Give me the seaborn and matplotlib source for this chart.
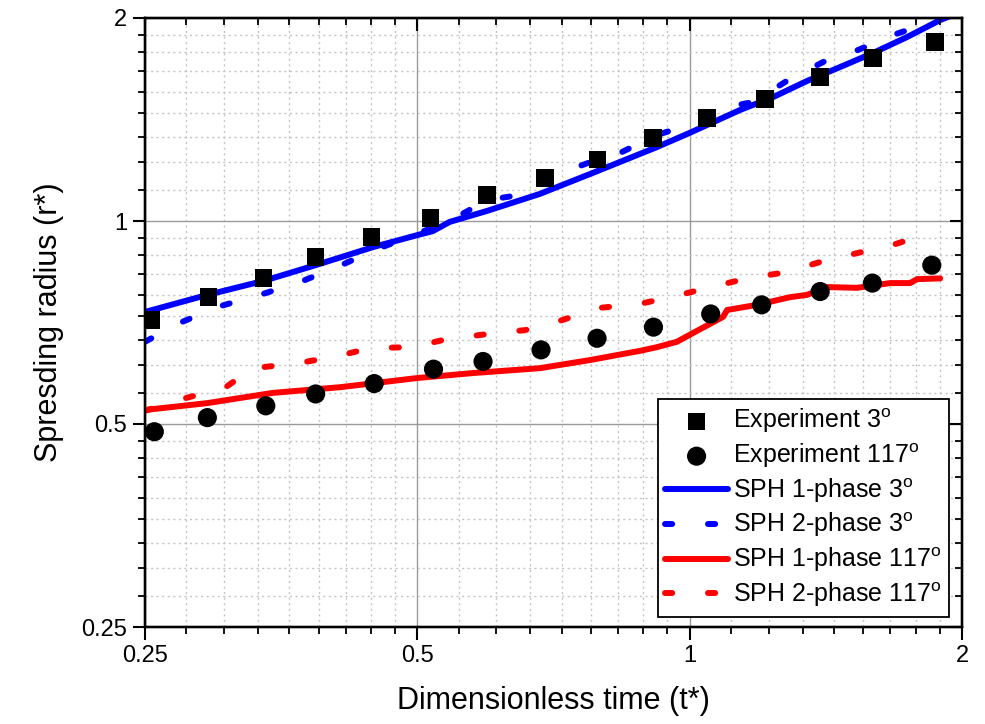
import matplotlib
matplotlib.use("Agg")
import matplotlib.pyplot as plt
import seaborn as sns
from matplotlib.ticker import FixedLocator, FixedFormatter, NullFormatter

# ---------------- data ----------------
exp3_t = [0.254, 0.294, 0.338, 0.386, 0.445, 0.517, 0.597, 0.692, 0.791, 0.911, 1.045, 1.212, 1.394, 1.595, 1.868]
exp3_r = [0.713, 0.772, 0.823, 0.885, 0.947, 1.010, 1.093, 1.158, 1.234, 1.327, 1.422, 1.517, 1.635, 1.745, 1.844]

exp117_t = [0.256, 0.293, 0.340, 0.386, 0.448, 0.521, 0.591, 0.685, 0.790, 0.912, 1.055, 1.201, 1.394, 1.592, 1.852]
exp117_r = [0.487, 0.511, 0.532, 0.554, 0.574, 0.603, 0.619, 0.644, 0.670, 0.696, 0.728, 0.751, 0.786, 0.809, 0.860]

sph1_3_t = [0.25, 0.293, 0.338, 0.387, 0.447, 0.5, 0.520, 0.543, 0.597, 0.683, 0.776, 0.920, 1.0, 1.137,
            1.237, 1.348, 1.467, 1.595, 1.739, 1.892, 1.965]
sph1_3_r = [0.733, 0.777, 0.815, 0.861, 0.915, 0.953, 0.966, 0.997, 1.035, 1.097, 1.174, 1.287, 1.351, 1.461,
            1.527, 1.613, 1.692, 1.775, 1.874, 1.986, 2.027]

sph2_3_t = [0.25, 0.273, 0.303, 0.335, 0.371, 0.408, 0.449, 0.543, 0.597, 0.649, 0.710, 0.772, 0.842, 0.920,
            0.996, 1.086, 1.175, 1.285, 1.419, 1.535, 1.678, 1.835, 1.931]
sph2_3_r = [0.662, 0.706, 0.748, 0.777, 0.812, 0.855, 0.906, 1.0, 1.074, 1.093, 1.170, 1.219, 1.266, 1.341,
            1.388, 1.471, 1.501, 1.618, 1.733, 1.793, 1.887, 1.966, 2.021]

sph1_117_t = [0.25, 0.293, 0.346, 0.411, 0.5, 0.576, 0.683, 0.776, 0.882, 0.920, 0.968, 1.0, 1.089, 1.100,
              1.187, 1.291, 1.348, 1.419, 1.531, 1.666, 1.753, 1.784, 1.892]
sph1_117_r = [0.5245, 0.537, 0.556, 0.567, 0.585, 0.595, 0.605, 0.622, 0.642, 0.650, 0.662, 0.678, 0.721, 0.738,
              0.751, 0.771, 0.777, 0.798, 0.796, 0.809, 0.809, 0.820, 0.822]

sph2_117_t = [0.25, 0.277, 0.307, 0.329, 0.365, 0.405, 0.444, 0.493, 0.539, 0.599, 0.658, 0.723, 0.792, 0.879,
              0.964, 1.056, 1.157, 1.281, 1.404, 1.531, 1.687, 1.858]
sph2_117_r = [0.523, 0.546, 0.567, 0.605, 0.614, 0.629, 0.648, 0.650, 0.668, 0.680, 0.689, 0.713, 0.743, 0.753,
              0.774, 0.798, 0.822, 0.840, 0.872, 0.896, 0.924, 0.963]

major_ticks = [0.25, 0.5, 1, 2]
major_labels = ["0.25", "0.5", "1", "2"]

labels = ["Experiment 3$^{\\mathrm{o}}$", "Experiment 117$^{\\mathrm{o}}$",
          "SPH 1-phase 3$^{\\mathrm{o}}$", "SPH 2-phase 3$^{\\mathrm{o}}$",
          "SPH 1-phase 117$^{\\mathrm{o}}$", "SPH 2-phase 117$^{\\mathrm{o}}$"]

# ---------------- style ----------------
sns.set_theme(style="white")
plt.rcParams["font.family"] = ["Liberation Sans", "DejaVu Sans"]
plt.rcParams["mathtext.fontset"] = "custom"
plt.rcParams["mathtext.rm"] = "Liberation Sans"
plt.rcParams["mathtext.it"] = "Liberation Sans:italic"
plt.rcParams["axes.edgecolor"] = "black"
plt.rcParams["axes.linewidth"] = 1.6
plt.rcParams["text.color"] = "black"
plt.rcParams["axes.labelcolor"] = "black"
plt.rcParams["xtick.color"] = "black"
plt.rcParams["ytick.color"] = "black"

fig = plt.figure(figsize=(9.85, 7.24), dpi=100)
ax = fig.add_axes([145 / 985, 1 - 627 / 724, 817 / 985, 609 / 724])

minor_ticks = [a * (1 + k / 9) for a in major_ticks[:-1] for k in range(1, 9)]

ax.set_xscale("log")
ax.set_yscale("log")
ax.set_xlim(0.25, 2)
ax.set_ylim(0.25, 2)
for axis in (ax.xaxis, ax.yaxis):
    axis.set_major_locator(FixedLocator(major_ticks))
    axis.set_major_formatter(FixedFormatter(major_labels))
    axis.set_minor_locator(FixedLocator(minor_ticks))
    axis.set_minor_formatter(NullFormatter())

ax.grid(which="major", color="#9a9a9a", linewidth=1.0, linestyle="-")
ax.grid(which="minor", color="#c4c4c4", linewidth=1.0, linestyle=(0, (1.5, 2.5)))
ax.set_axisbelow(True)

ax.tick_params(which="major", direction="out", length=9, width=1.5, labelsize=17, pad=4,
               colors="black", bottom=True, left=True)
ax.tick_params(which="minor", direction="out", length=5, width=1.3, bottom=True, left=True)

lw = 4.3
dash = (0, (1.2, 6))

sns.lineplot(x=sph1_3_t, y=sph1_3_r, ax=ax, color="#0000ff", linewidth=lw, sort=False,
             estimator=None, label=labels[2], solid_capstyle="round", zorder=3)
sns.lineplot(x=sph2_3_t, y=sph2_3_r, ax=ax, color="#0000ff", linewidth=lw, sort=False,
             estimator=None, label=labels[3], linestyle=dash, dash_capstyle="round", zorder=3)
sns.lineplot(x=sph1_117_t, y=sph1_117_r, ax=ax, color="#ff0000", linewidth=lw, sort=False,
             estimator=None, label=labels[4], solid_capstyle="round", zorder=3)
sns.lineplot(x=sph2_117_t, y=sph2_117_r, ax=ax, color="#ff0000", linewidth=lw, sort=False,
             estimator=None, label=labels[5], linestyle=dash, dash_capstyle="round", zorder=3)
sns.scatterplot(x=exp3_t, y=exp3_r, ax=ax, marker="s", s=160, color="black", edgecolor="none",
                label=labels[0], zorder=4)
sns.scatterplot(x=exp117_t, y=exp117_r, ax=ax, marker="o", s=190, color="black", edgecolor="none",
                label=labels[1], zorder=4)

ax.set_xlabel("Dimensionless time (t*)", fontsize=22, labelpad=14, color="black")
ax.set_ylabel("Spresding radius (r*)", fontsize=22, labelpad=12, color="black")

# mirrored inward ticks on top and right
axt = ax.twiny()
axr = ax.twinx()
axt.set_xscale("log")
axt.set_xlim(0.25, 2)
axr.set_yscale("log")
axr.set_ylim(0.25, 2)
for axis in (axt.xaxis, axr.yaxis):
    axis.set_major_locator(FixedLocator(major_ticks))
    axis.set_minor_locator(FixedLocator(minor_ticks))
    axis.set_major_formatter(NullFormatter())
    axis.set_minor_formatter(NullFormatter())
axt.tick_params(axis="x", which="major", direction="in", length=9, width=1.5, top=True, labeltop=False)
axt.tick_params(axis="x", which="minor", direction="in", length=5, width=1.3, top=True)
axr.tick_params(axis="y", which="major", direction="in", length=9, width=1.5, right=True, labelright=False)
axr.tick_params(axis="y", which="minor", direction="in", length=5, width=1.3, right=True)
axt.grid(False)
axr.grid(False)

h, l = ax.get_legend_handles_labels()
hmap = dict(zip(l, h))
if ax.get_legend() is not None:
    ax.get_legend().remove()
leg = axr.legend([hmap[x] for x in labels], labels, loc="lower right",
                 bbox_to_anchor=(0.984, 0.017), bbox_transform=ax.transAxes,
                 fontsize=18, frameon=True, fancybox=False, framealpha=1,
                 edgecolor="black", borderaxespad=0, borderpad=0.3,
                 handlelength=2.5, handletextpad=0.2, labelspacing=0.25)
leg.get_frame().set_linewidth(1.3)

fig.savefig("out.png", dpi=100)
